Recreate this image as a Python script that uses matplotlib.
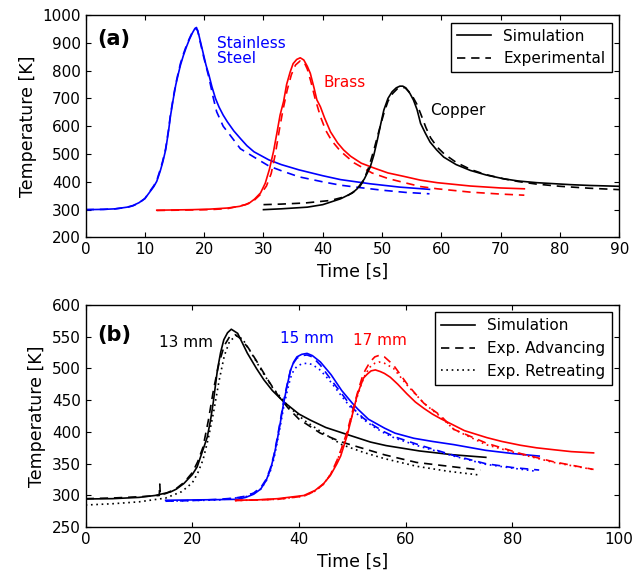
import matplotlib
matplotlib.use("Agg")
import matplotlib.pyplot as plt

# style close to the old matplotlib defaults used in the paper
plt.rcParams['font.family'] = ['DejaVu Sans']
plt.rcParams['xtick.direction'] = 'in'
plt.rcParams['ytick.direction'] = 'in'
plt.rcParams['xtick.top'] = True
plt.rcParams['ytick.right'] = True
plt.rcParams['xtick.major.size'] = 3.5
plt.rcParams['ytick.major.size'] = 3.5
plt.rcParams['xtick.labelsize'] = 11
plt.rcParams['ytick.labelsize'] = 11
plt.rcParams['axes.linewidth'] = 1.0

# ---- panel (a): three metals ----
ss_sim_t = [0, 3, 5, 7, 8, 9, 10, 10.7, 11.5, 12, 12.6, 13, 13.5, 14, 14.3, 14.8, 15.2, 15.6, 16, 16.5,
            17, 17.5, 18, 18.4, 18.7, 19.1, 19.5, 19.9, 20.3, 20.8, 21.3, 21.9, 22.5, 23.2, 23.9, 25,
            26.1, 27.2, 28.4, 30.9, 33, 36, 40, 43, 48, 53, 58]
ss_sim_T = [300, 301, 303, 309, 315, 325, 340, 360, 383, 402, 440, 470, 515, 585, 635, 700, 748, 785, 820, 855,
            885, 912, 935, 950, 955, 928, 892, 856, 820, 784, 742, 700, 669, 640, 616, 583,
            556, 530, 508, 479, 462, 443, 422, 408, 393, 381, 373]
ss_exp_t = [0, 3, 5, 7, 8, 9, 10, 10.7, 11.5, 12, 12.6, 13, 13.5, 14, 14.3, 14.8, 15.2, 15.6, 16, 16.5,
            17, 17.5, 18, 18.5, 18.9, 19.3, 19.9, 20.8, 21.5, 22.1, 23.2, 24.4, 26.1, 28.4, 30.9, 33,
            36, 40, 43, 46, 50, 54, 58]
ss_exp_T = [300, 301, 303, 308, 314, 324, 340, 362, 386, 405, 445, 475, 520, 590, 640, 705, 752, 790, 826, 860,
            890, 915, 938, 952, 945, 905, 850, 775, 705, 652, 600, 567, 519, 489, 457, 440,
            418, 400, 388, 380, 370, 362, 357]

br_sim_t = [12, 15, 18, 21, 24, 26, 27.5, 28.5, 29.5, 30.3, 31, 31.7, 32.3, 32.8, 33.4, 33.9, 34.5, 35,
            35.6, 36.2, 36.8, 37.4, 37.9, 38.5, 39, 39.6, 40.3, 41.3, 42.5, 43.5, 44.7, 46.5, 48.6,
            51, 53.6, 56.5, 59.3, 64.9, 70, 74]
br_sim_T = [298, 299, 300, 302, 306, 312, 322, 338, 360, 395, 445, 510, 580, 640, 690, 750, 795, 825,
            840, 846, 838, 815, 790, 740, 695, 670, 630, 580, 540, 515, 492, 467, 450,
            432, 420, 406, 397, 385, 378, 375]
br_exp_t = [12, 15, 18, 21, 24, 27, 28.5, 29.5, 30.5, 31.3, 32, 32.7, 33.3, 34, 34.7, 35.4, 36.2, 36.8,
            37.4, 38, 38.7, 39.6, 40.5, 41.5, 43, 45.3, 48.3, 51, 53.6, 56.5, 59.3, 64.9, 70, 74]
br_exp_T = [297, 298, 299, 300, 304, 318, 335, 355, 385, 430, 500, 590, 660, 730, 785, 820, 835, 833,
            805, 760, 700, 635, 585, 548, 510, 468, 432, 412, 398, 383, 375, 363, 356, 352]

cu_sim_t = [30, 33, 37.4, 40, 43, 45, 45.8, 47, 48, 48.6, 49.2, 49.8, 50.3, 51, 51.7, 52.4, 53, 53.5,
            54, 54.7, 55.3, 55.9, 56.5, 57.3, 58.1, 59.2, 60.4, 62.5, 64.9, 67.5, 70.5, 73, 76.1, 81.7,
            85, 90]
cu_sim_T = [300, 303, 309, 318, 339, 360, 375, 410, 453, 495, 550, 610, 658, 700, 724, 738, 744, 744,
            738, 718, 694, 660, 610, 575, 543, 515, 489, 462, 441, 425, 411, 403, 397, 390,
            387, 384]
cu_exp_t = [30, 33, 37, 41.3, 44, 46, 46.9, 47.8, 48.6, 49.5, 50.3, 51, 51.8, 52.6, 53.3, 53.9, 54.5,
            55.2, 55.9, 56.6, 57.4, 58.2, 59.3, 60.5, 62.5, 65, 67.5, 70.5, 73, 76, 80, 85, 90]
cu_exp_T = [318, 320, 324, 333, 348, 375, 405, 455, 513, 585, 646, 690, 718, 735, 740, 738, 725,
            705, 678, 640, 595, 558, 525, 500, 470, 444, 426, 411, 401, 392, 384, 377, 372]

# ---- panel (b): three distances ----
d13_sim_t = [0, 5, 10, 13, 15.9, 17, 18.4, 20, 20.9, 22, 22.8, 23.4, 23.9, 24.7, 25.3, 25.9, 26.6, 27.3,
             28.5, 30.3, 32, 33.4, 35, 37.1, 40, 42.1, 45, 48.4, 53.4, 56.3, 62.6, 68.9, 75]
d13_sim_T = [294.5, 295, 297, 300, 305.5, 310, 318.7, 333, 345, 372, 392, 418, 445, 497.5, 525, 545, 556, 561.5,
             555, 524, 500, 482, 465, 447.5, 428, 418.6, 407, 397.6, 384, 378.5, 370, 364, 360]
d13_adv_t = [0, 5, 10, 13.8, 13.9, 14.0, 15, 17, 18.5, 20, 21, 22, 23, 24, 25, 26, 27, 28, 29, 30.5,
             32, 34, 36, 38, 40, 44, 48, 52, 56, 62, 68, 74]
d13_adv_T = [295, 296, 298, 300, 318, 301, 303, 311, 321, 336, 353, 376, 418, 468, 508, 536, 550, 553, 547, 532,
             512, 484, 458, 437, 420, 398, 384, 374, 364, 352, 346, 340]
d13_ret_t = [0, 5, 10, 15, 18, 20, 21, 22, 23, 24, 25, 26, 27, 28.4, 29.5, 31, 33, 35, 38, 41, 44,
             48, 52, 56, 62, 68, 74]
d13_ret_T = [285, 287, 290, 296, 306, 320, 335, 356, 390, 432, 480, 520, 543, 552, 545, 525, 496, 470, 440, 418, 401,
             380, 368, 358, 346, 338, 332]

d15_sim_t = [15, 20, 25, 28.4, 30, 31.5, 32.8, 33.8, 34.6, 35.3, 35.9, 36.5, 37.1, 37.8, 38.4, 39, 39.6,
             40.5, 41.5, 42.5, 44, 46, 48, 50, 51, 53, 56, 58, 61.5, 65, 69, 75, 80, 85]
d15_sim_T = [292.5, 293, 293.5, 294, 297, 302, 310, 323, 340, 362, 387, 415, 445, 474, 497, 510, 518,
             522, 523.5, 520, 510, 490, 465, 445, 436, 420, 406, 398, 390, 385, 380, 371, 366, 362]
d15_adv_t = [15, 20, 25, 28, 30, 31.5, 32.8, 33.8, 34.6, 35.3, 35.9, 36.5, 37.1, 37.8, 38.4, 39, 39.6,
             40.5, 41.5, 42.5, 44, 46, 48, 50, 52, 54, 56, 58, 62.7, 69, 75, 80, 85]
d15_adv_T = [291, 292, 294, 296, 299, 304, 312, 325, 342, 364, 390, 418, 448, 476, 497, 509, 516,
             520, 521, 518, 505, 482, 460, 438, 422, 410, 400, 392, 379, 363, 350, 344, 340]
d15_ret_t = [15, 25, 30, 32.8, 33.8, 34.6, 35.3, 35.9, 36.5, 37.1, 37.8, 38.4, 39, 39.6, 40.5, 41.5,
             42.5, 44, 46, 48, 50, 52, 54, 56, 58, 62.7, 69, 75, 80, 84.5]
d15_ret_T = [291, 293, 298, 310, 322, 338, 358, 383, 410, 438, 465, 485, 497, 503, 507, 508,
             506, 497, 478, 456, 435, 420, 408, 398, 390, 377, 362, 349, 343, 338]

d17_sim_t = [28.1, 32, 36, 40.9, 43, 44.6, 45.9, 47.1, 47.8, 48.4, 49, 49.9, 50.9, 51.5, 52.1, 52.8, 53.5,
             54.3, 55.2, 56, 57.1, 58.5, 60.2, 61.8, 63.4, 65, 66.5, 68.4, 71, 75.2, 78, 81.5, 84.5, 87.7,
             91, 95.2]
d17_sim_T = [292.5, 293, 295, 300, 308, 318.7, 332, 350, 362, 378, 394, 424, 458, 472, 485, 491, 496,
             497.5, 495, 492, 486, 475, 460, 447, 437, 428, 421, 413, 402, 391, 385, 379, 375, 372,
             369, 367]
d17_adv_t = [28, 32, 36, 40.9, 43, 44.6, 45.9, 47.1, 48, 49, 50, 51, 51.8, 52.4, 53.3, 54.2, 55.2, 56,
             56.8, 57.7, 59, 60.2, 61.8, 63.4, 65, 66.5, 69, 75.2, 81.5, 87.7, 95.2]
d17_adv_T = [292, 293, 294, 299, 307, 318, 333, 355, 375, 400, 432, 463, 485, 497, 510, 518, 521, 518,
             512, 505, 490, 476, 460, 445, 435, 426, 404, 382, 366, 353, 341]
d17_ret_t = [28, 32, 36, 40.9, 43, 44.6, 45.9, 47.1, 48, 49, 50, 51, 51.8, 52.4, 53.3, 54.2, 55, 56,
             57.7, 60.2, 63.4, 66.5, 69, 75, 81.5, 87.7, 95]
d17_ret_T = [292, 293, 294, 299, 307, 318, 333, 354, 373, 397, 428, 458, 478, 490, 502, 508, 510, 508,
             500, 474, 445, 424, 404, 380, 365, 352, 341]

lw = 1.2
dash = (5, 3.5)
dot = (1, 2.2)

fig = plt.figure(figsize=(6.39, 5.75), dpi=100)
ax1 = fig.add_axes([0.134, 0.587, 0.835, 0.387])
ax2 = fig.add_axes([0.134, 0.083, 0.835, 0.387])

# panel (a)
ax1.plot(ss_sim_t, ss_sim_T, color='b', lw=lw)
ax1.plot(ss_exp_t, ss_exp_T, color='b', lw=lw, dashes=dash)
ax1.plot(br_sim_t, br_sim_T, color='r', lw=lw)
ax1.plot(br_exp_t, br_exp_T, color='r', lw=lw, dashes=dash)
ax1.plot(cu_sim_t, cu_sim_T, color='k', lw=lw, label='Simulation')
ax1.plot(cu_exp_t, cu_exp_T, color='k', lw=lw, dashes=dash, label='Experimental')

ax1.set_xlim(0, 90)
ax1.set_ylim(200, 1000)
ax1.set_xticks(range(0, 91, 10))
ax1.set_yticks(range(200, 1001, 100))
ax1.set_xlabel('Time [s]', fontsize=12.5)
ax1.set_ylabel('Temperature [K]', fontsize=12.5)
ax1.text(0.022, 0.893, '(a)', transform=ax1.transAxes, fontsize=15, fontweight='bold', va='center')
ax1.text(22.1, 872, 'Stainless\nSteel', color='b', fontsize=11, va='center', linespacing=1.0)
ax1.text(40.2, 758, 'Brass', color='r', fontsize=11, va='center')
ax1.text(58.1, 658, 'Copper', color='k', fontsize=11, va='center')
ax1.legend(loc='upper right', fontsize=11, fancybox=False, framealpha=1, edgecolor='k',
           handlelength=2.2)

# panel (b)
ax2.plot(d13_sim_t, d13_sim_T, color='k', lw=lw, label='Simulation')
ax2.plot(d13_adv_t, d13_adv_T, color='k', lw=lw, dashes=dash, label='Exp. Advancing')
ax2.plot(d13_ret_t, d13_ret_T, color='k', lw=lw, dashes=dot, label='Exp. Retreating')
ax2.plot(d15_sim_t, d15_sim_T, color='b', lw=lw)
ax2.plot(d15_adv_t, d15_adv_T, color='b', lw=lw, dashes=dash)
ax2.plot(d15_ret_t, d15_ret_T, color='b', lw=lw, dashes=dot)
ax2.plot(d17_sim_t, d17_sim_T, color='r', lw=lw)
ax2.plot(d17_adv_t, d17_adv_T, color='r', lw=lw, dashes=dash)
ax2.plot(d17_ret_t, d17_ret_T, color='r', lw=lw, dashes=dot)

ax2.set_xlim(0, 100)
ax2.set_ylim(250, 600)
ax2.set_xticks(range(0, 101, 20))
ax2.set_yticks(range(250, 601, 50))
ax2.set_xlabel('Time [s]', fontsize=12.5)
ax2.set_ylabel('Temperature [K]', fontsize=12.5)
ax2.text(0.022, 0.862, '(b)', transform=ax2.transAxes, fontsize=15, fontweight='bold', va='center')
ax2.text(13.7, 540, '13 mm', color='k', fontsize=11, va='center')
ax2.text(36.4, 547, '15 mm', color='b', fontsize=11, va='center')
ax2.text(50.2, 544, '17 mm', color='r', fontsize=11, va='center')
ax2.legend(loc='upper right', fontsize=11, fancybox=False, framealpha=1, edgecolor='k',
           handlelength=2.2)

fig.savefig('out.png', dpi=100)
